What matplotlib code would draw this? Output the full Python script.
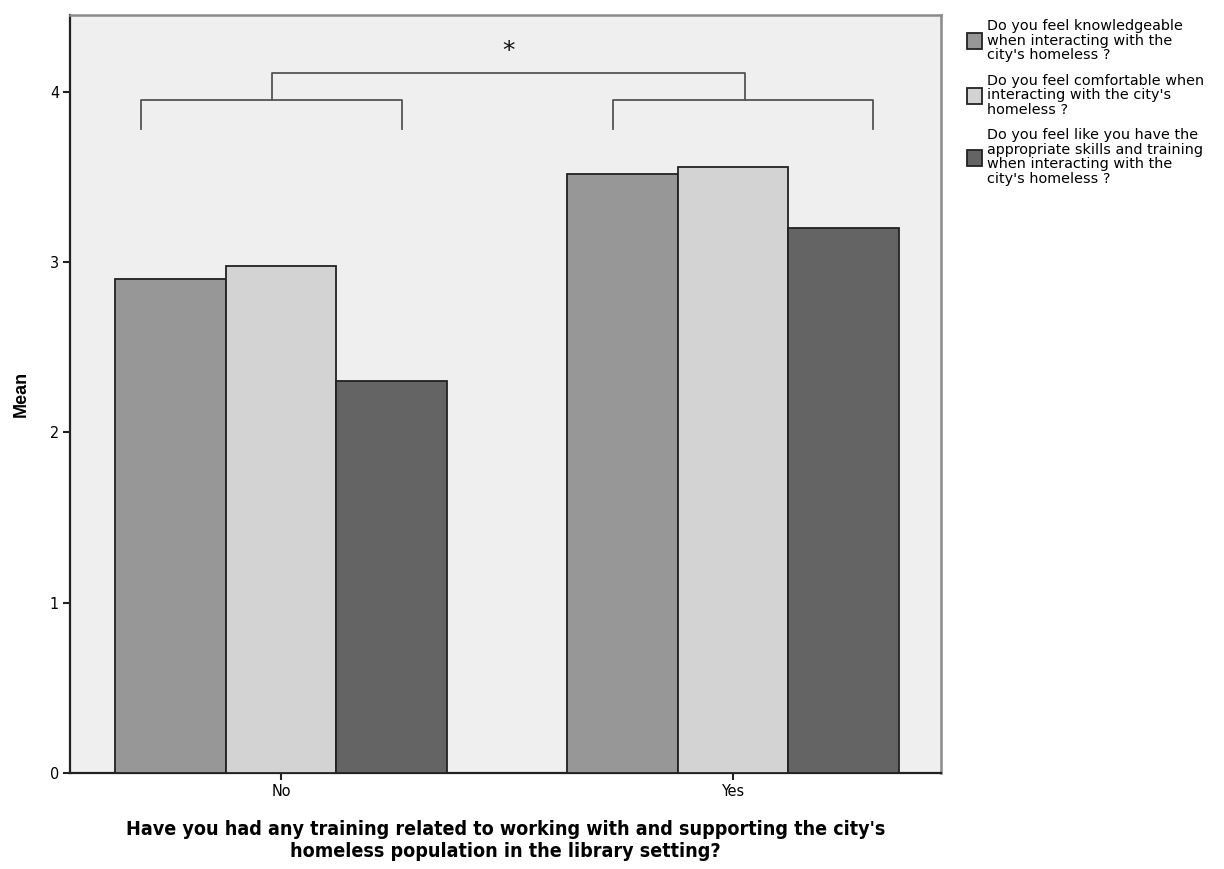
import numpy as np
import matplotlib
matplotlib.use('Agg')
import matplotlib.pyplot as plt

groups = ['No', 'Yes']
series = ["Do you feel knowledgeable\nwhen interacting with the\ncity's homeless ?",
          "Do you feel comfortable when\ninteracting with the city's\nhomeless ?",
          "Do you feel like you have the\nappropriate skills and training\nwhen interacting with the\ncity's homeless ?"]
knowledgeable = [2.90, 3.52]
comfortable = [2.98, 3.56]
skills = [2.30, 3.20]
colors = ['#979797', '#d3d3d3', '#646464']

fig = plt.figure(figsize=(12.24, 8.69), dpi=100)
ax = fig.add_axes([0.0572, 0.1105, 0.7116, 0.872])
ax.set_facecolor('#efefef')

x = np.arange(len(groups))
w = 0.245
handles = []
for i, (vals, c) in enumerate(zip([knowledgeable, comfortable, skills], colors)):
    b = ax.bar(x + (i - 1) * w, vals, w, color=c, edgecolor='#222222', linewidth=1.3, zorder=3)
    handles.append(b)

narrow = dict(family=['DejaVu Sans', 'Liberation Sans'], stretch='condensed')

ax.set_xlim(-0.467, 1.46)
ax.set_ylim(0, 4.45)
ax.set_yticks([0, 1, 2, 3, 4])
ax.set_xticks(x)
ax.set_xticklabels(groups, fontsize=11.5, **narrow)
ax.set_yticklabels(['0', '1', '2', '3', '4'], fontsize=11.5, **narrow)
ax.tick_params(axis='both', direction='out', length=5, width=1.5, color='#222222', pad=3)

for s in ['left', 'bottom']:
    ax.spines[s].set_linewidth(1.6)
    ax.spines[s].set_color('#222222')
for s in ['top', 'right']:
    ax.spines[s].set_linewidth(1.8)
    ax.spines[s].set_color('#8a8a8a')

ax.set_ylabel('Mean', fontsize=13, fontweight='bold', family=['Liberation Sans', 'DejaVu Sans'], labelpad=14)
ax.set_xlabel("Have you had any training related to working with and supporting the city's\nhomeless population in the library setting?",
              fontsize=14.1, fontweight='bold', labelpad=15, linespacing=1.2, **narrow)

# significance brackets
br = dict(color='#555555', lw=1.3, zorder=4)
ax.plot([-0.31, -0.31, 0.268, 0.268], [3.78, 3.95, 3.95, 3.78], **br)
ax.plot([0.735, 0.735, 1.31, 1.31], [3.78, 3.95, 3.95, 3.78], **br)
ax.plot([-0.02, -0.02, 1.027, 1.027], [3.95, 4.11, 4.11, 3.95], **br)
ax.text(0.5035, 4.24, '*', ha='center', va='center', fontsize=18, color='#111111')

leg = fig.legend(handles, series, loc='upper left', bbox_to_anchor=(0.7795, 0.993),
                 frameon=False, handlelength=1.05, handleheight=1.3,
                 handletextpad=0.35, labelspacing=0.8,
                 prop={'family': ['DejaVu Sans'], 'size': 10.4})
for t in leg.get_texts():
    t.set_linespacing(1.05)

fig.savefig('out.png', dpi=100, facecolor='white')
